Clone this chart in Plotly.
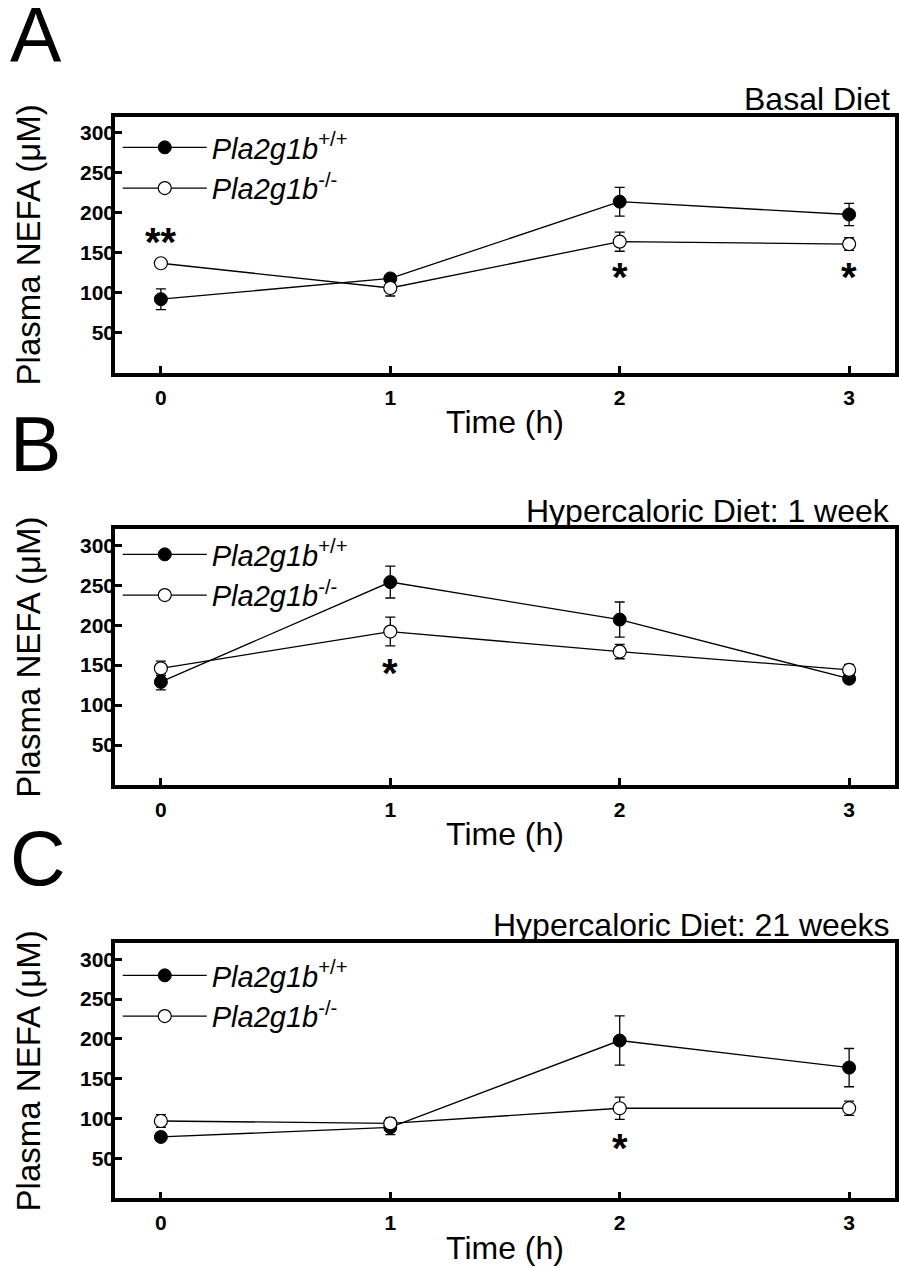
import plotly.graph_objects as go

# ---------------- data ----------------
time_h = [0, 1, 2, 3]
time_ticks = ["0", "1", "2", "3"]
nefa_ticks = [50, 100, 150, 200, 250, 300]

panel_letters = ["A", "B", "C"]
diet_titles = ["Basal Diet", "Hypercaloric Diet: 1 week", "Hypercaloric Diet: 21 weeks"]

wt_name = "<i>Pla2g1b</i><sup>+/+</sup>"
ko_name = "<i>Pla2g1b</i><sup>-/-</sup>"

# Panel A - basal diet
wt_A = [92, 118, 214, 198]
wt_A_err = [13, 4, 18, 14]
ko_A = [137, 106, 164, 161]
ko_A_err = [5, 10, 12, 8]

# Panel B - hypercaloric diet, 1 week
wt_B = [129, 254, 207, 133]
wt_B_err = [10, 20, 22, 4]
ko_B = [146, 192, 167, 144]
ko_B_err = [9, 18, 9, 7]

# Panel C - hypercaloric diet, 21 weeks
wt_C = [77, 89, 198, 164]
wt_C_err = [5, 9, 31, 24]
ko_C = [97, 94, 113, 113]
ko_C_err = [8, 7, 14, 9]

# significance marks: (time, label, level)
sig_A = [(0, "**", 170), (2, "*", 126), (3, "*", 126)]
sig_B = [(1, "*", 146)]
sig_C = [(2, "*", 70)]

wt_all = [wt_A, wt_B, wt_C]
wt_err_all = [wt_A_err, wt_B_err, wt_C_err]
ko_all = [ko_A, ko_B, ko_C]
ko_err_all = [ko_A_err, ko_B_err, ko_C_err]
sig_all = [sig_A, sig_B, sig_C]

# ---------------- layout geometry ----------------
W, H = 899, 1268
x_dom = [115 / W, 895 / W]
y_doms = [
    [1 - 372.7 / H, 1 - 117 / H],
    [1 - 785 / H, 1 - 529.3 / H],
    [1 - 1198.3 / H, 1 - 943.3 / H],
]
legend_tops = [1 - 122 / H, 1 - 529 / H, 1 - 950 / H]
letter_tops = [1 - 3 / H, 1 - 412 / H, 1 - 826 / H]

FONT = "Liberation Sans, Arial, Helvetica, sans-serif"

fig = go.Figure()
layout = dict(
    width=W, height=H,
    margin=dict(l=0, r=0, t=0, b=0),
    paper_bgcolor="white", plot_bgcolor="white",
    font=dict(family=FONT, color="black"),
    showlegend=True,
)

annotations = []
for i in range(3):
    sfx = "" if i == 0 else str(i + 1)
    xa, ya = "x" + sfx, "y" + sfx
    leg = "legend" + sfx

    fig.add_trace(go.Scatter(
        x=time_h, y=wt_all[i], name=wt_name, mode="lines+markers",
        xaxis=xa, yaxis=ya, legend=leg,
        line=dict(color="black", width=1.3),
        marker=dict(color="black", size=13, line=dict(color="black", width=1)),
        error_y=dict(type="data", array=wt_err_all[i], color="black", thickness=1.3, width=5),
    ))
    fig.add_trace(go.Scatter(
        x=time_h, y=ko_all[i], name=ko_name, mode="lines+markers",
        xaxis=xa, yaxis=ya, legend=leg,
        line=dict(color="black", width=1.3),
        marker=dict(color="white", size=13, line=dict(color="black", width=1.2)),
        error_y=dict(type="data", array=ko_err_all[i], color="black", thickness=1.3, width=5),
    ))

    layout["xaxis" + sfx] = dict(
        domain=x_dom, anchor=ya, range=[-0.2, 3.2],
        tickmode="array", tickvals=time_h, ticktext=time_ticks,
        ticks="inside", ticklen=7, tickwidth=3, tickcolor="black",
        showline=True, linewidth=3.5, linecolor="black", mirror=True,
        showgrid=False, zeroline=False,
        ticklabelstandoff=3,
        tickfont=dict(family=FONT, size=21, color="black", weight="bold"),
        title=dict(text="Time (h)", font=dict(family=FONT, size=32, color="black"), standoff=4),
        automargin=False,
    )
    layout["yaxis" + sfx] = dict(
        domain=y_doms[i], anchor=xa, range=[0, 320],
        tickmode="array", tickvals=nefa_ticks,
        ticks="inside", ticklen=7, tickwidth=3, tickcolor="black",
        showline=True, linewidth=3.5, linecolor="black", mirror=True,
        showgrid=False, zeroline=False,
        ticklabelstandoff=-8,
        tickfont=dict(family=FONT, size=21, color="black", weight="bold"),
        title=dict(text="Plasma NEFA (μM)", font=dict(family=FONT, size=33, color="black"), standoff=30),
        automargin=False,
    )
    layout[leg] = dict(
        x=0.131, y=legend_tops[i], xanchor="left", yanchor="top",
        bgcolor="rgba(0,0,0,0)", borderwidth=0,
        font=dict(family=FONT, size=29, color="black"),
        itemwidth=84, tracegroupgap=0,
    )

    # diet title
    annotations.append(dict(
        text=diet_titles[i], xref=xa + " domain", yref=ya + " domain",
        x=1, y=1, xanchor="right", yanchor="bottom", xshift=-3, yshift=-2,
        showarrow=False, font=dict(family=FONT, size=32, color="black"),
    ))
    # panel letter
    annotations.append(dict(
        text=panel_letters[i], xref="paper", yref="paper",
        x=0.0, y=letter_tops[i], xanchor="left", yanchor="top", xshift=8,
        height=60, valign="middle",
        showarrow=False, font=dict(family=FONT, size=77, color="black"),
    ))
    # significance asterisks
    for (t, lab, lvl) in sig_all[i]:
        annotations.append(dict(
            text=lab, xref=xa, yref=ya, x=t, y=lvl,
            xanchor="center", yanchor="middle", yshift=-5,
            showarrow=False, font=dict(family=FONT, size=40, color="black", weight="bold"),
        ))

layout["annotations"] = annotations
fig.update_layout(**layout)
fig.write_html("out.html", config={"displayModeBar": False},
               post_script="document.body.style.margin='0px';")
